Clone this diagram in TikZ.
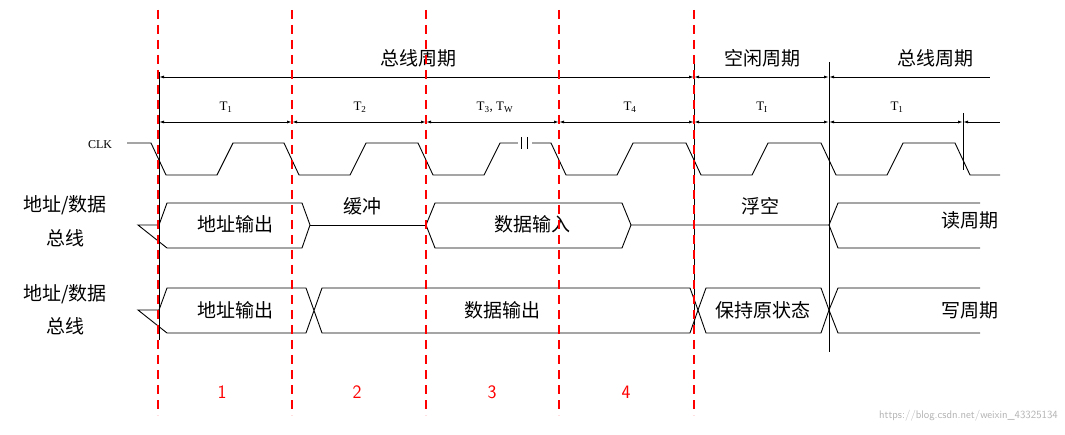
\documentclass[tikz,border=0pt]{standalone}
\usepackage{fontspec}
\newfontfamily\cjk{Noto Sans CJK SC}
\setmainfont{Liberation Serif}
\usetikzlibrary{arrows.meta}
\begin{document}
\begin{tikzpicture}[x=1pt,y=-1pt,
  sig/.style={line width=0.9pt,black},
  red dash/.style={red,line width=1.6pt,dash pattern=on 9pt off 6pt},
  dim/.style={line width=0.9pt,{Latex[length=5pt,width=3pt]}-{Latex[length=5pt,width=3pt]}},
  cn/.style={font=\cjk\fontsize{19}{19}\selectfont,inner sep=0pt},
  tl/.style={font=\fontsize{13}{13}\selectfont,inner sep=0pt}]
\useasboundingbox (0,0) rectangle (1065,435);
% black verticals
\draw[sig] (159,72) -- (159,340);
\draw[sig] (694,62) -- (694,325);
\draw[sig] (829,62) -- (829,352);
\draw[sig] (963,113) -- (963,170);
% period lines
\coordinate (b0) at (159,77); \coordinate (b1) at (694,77);
\coordinate (b2) at (829,77); \coordinate (b3) at (990,77);
\draw[dim] (b0) -- (b1); \draw[dim] (b1) -- (b2); \draw[sig,{Latex[length=5pt,width=3pt]}-] (b2) -- (b3);
\node[cn] (bc1) at (418,58) {总线周期};
\node[cn] (ic) at (762,58) {空闲周期};
\node[cn] (bc2) at (935,58) {总线周期};
\foreach \a/\b in {159/292,292/426,426/559,559/694,694/829,829/963}
  \draw[dim] (\a,122) -- (\b,122);
\draw[sig,{Latex[length=5pt,width=3pt]}-] (963,122) -- (1000,122);
\node[tl] (t1) at (226,107) {T\textsubscript{1}};
\node[tl] (t2) at (360,107) {T\textsubscript{2}};
\node[tl] (t3) at (495,107) {T\textsubscript{3}, T\textsubscript{W}};
\node[tl] (t4) at (630,107) {T\textsubscript{4}};
\node[tl] (ti) at (762,107) {T\textsubscript{I}};
\node[tl] (t5) at (897,107) {T\textsubscript{1}};
% CLK
\node[tl,font=\fontsize{12}{12}\selectfont] (clk) at (100,145) {CLK};
\draw[sig] (127,143) -- (151,143)
  \foreach \x in {159,292,426,559,694,829} {
    -- (\x-8,143) -- (\x+7,175) -- (\x+58,175) -- (\x+74,143) }
  -- (955,143) -- (970,175) -- (1000,175);
% wait break
\draw[white,line width=3pt] (518,143) -- (532,143);
\draw[sig] (521,137) -- (521,149) (527,137) -- (527,149);
% bus 1
\def\ta{203}\def\mi{225}\def\bo{248}
\draw[sig] (138,\mi) -- (159,\mi) -- (167,\ta) -- (302,\ta) -- (310,\mi) -- (302,\bo) -- (167,\bo) -- cycle;
\draw[sig] (310,\mi) -- (426,\mi);
\draw[sig] (426,\mi) -- (435,\ta) -- (622,\ta) -- (631,\mi) -- (622,\bo) -- (435,\bo) -- cycle;
\draw[sig] (631,\mi) -- (829,\mi) -- (838,\ta) -- (980,\ta) (829,\mi) -- (838,\bo) -- (980,\bo);
% bus 2
\def\ta{288}\def\mi{310}\def\bo{333}
\draw[sig] (138,\mi) -- (159,\mi) -- (167,\ta) -- (306,\ta) -- (322,\bo) -- (690,\bo) -- (698,\mi) -- (690,\ta) -- (322,\ta) -- (306,\bo) -- (167,\bo) -- cycle;
\draw[sig] (698,\mi) -- (706,\ta) -- (821,\ta) -- (829,\mi) -- (821,\bo) -- (706,\bo) -- cycle;
\draw[sig] (829,\mi) -- (838,\ta) -- (980,\ta) (829,\mi) -- (838,\bo) -- (980,\bo);
% labels
\node[cn] (l1) at (65,205) {地址/数据};
\node[cn] (l2) at (65,238) {总线};
\node[cn] (l3) at (65,294) {地址/数据};
\node[cn] (l4) at (65,326) {总线};
\node[cn] (a1) at (235,224) {地址输出};
\node[cn] (hc) at (362,206) {缓冲};
\node[cn] (di) at (532,224) {数据输入};
\node[cn] (fk) at (760,206) {浮空};
\node[cn] (rd) at (970,220) {读周期};
\node[cn] (a2) at (235,310) {地址输出};
\node[cn] (do) at (502,310) {数据输出};
\node[cn] (bc) at (763,310) {保持原状态};
\node[cn] (wr) at (970,310) {写周期};
% red dashed
\foreach \x in {158,292,426,559,694} \draw[red dash] (\x,10) -- (\x,415);
\foreach \n/\x in {1/222,2/357,3/492,4/626}
  \node[font=\sffamily\fontsize{19}{19}\selectfont,red,inner sep=0pt] (n\n) at (\x,392) {\n};
\node[font=\sffamily\fontsize{11}{11}\selectfont,gray!60,anchor=east,inner sep=0pt] (wm) at (1058,416) {https://blog.csdn.net/weixin\_43325134};
\end{tikzpicture}
\end{document}
